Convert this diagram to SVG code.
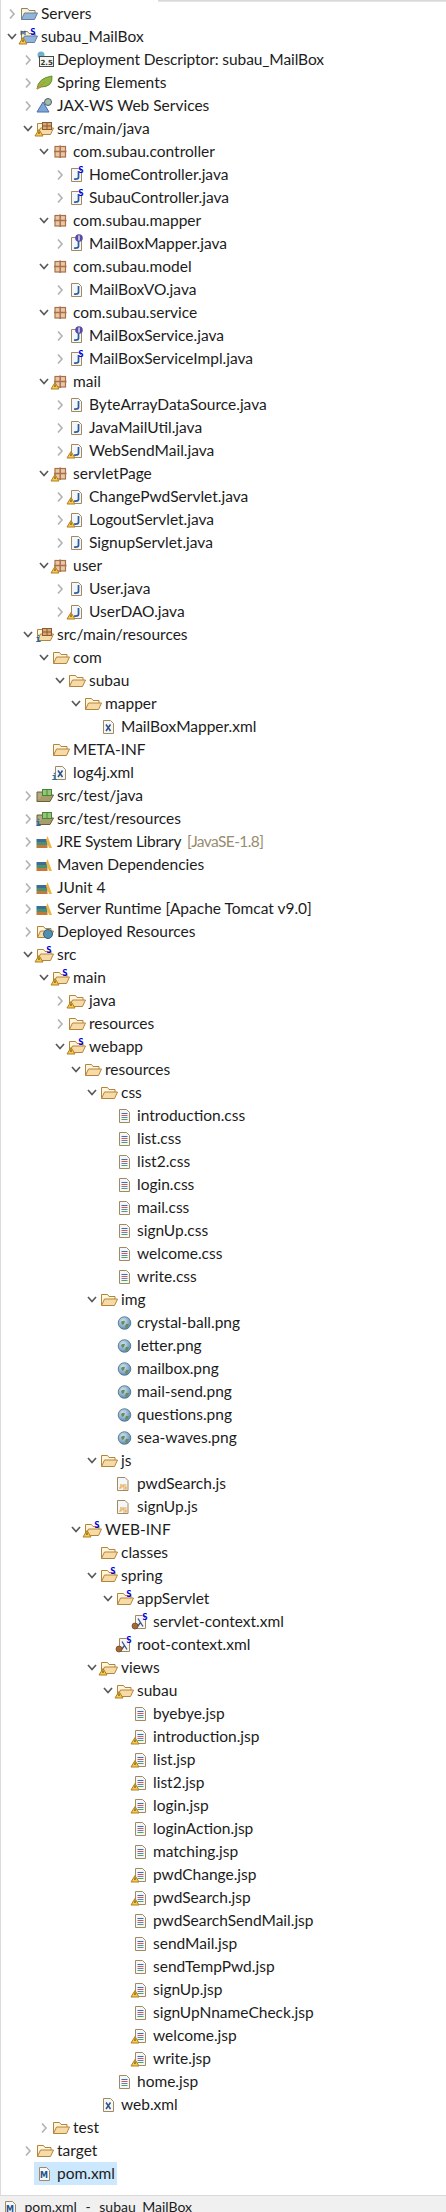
<svg xmlns="http://www.w3.org/2000/svg" width="446" height="2212" viewBox="0 0 446 2212">
<style>
text{font-family:"Lato","Noto Sans",sans-serif;font-size:15.500px;fill:#1c1c1c}
.q{fill:#978c6e}
.st{font-size:14px;word-spacing:5px}
.s{font-family:"DejaVu Sans Mono","Liberation Mono",monospace;font-size:9px;font-weight:700;fill:#0000e6}
.b{font-family:"DejaVu Sans","Liberation Sans",sans-serif;font-size:8px;font-weight:700;fill:#3b5a8c}
.cr{fill:none;stroke:#b4b4b4;stroke-width:1.700}
.cd{fill:none;stroke:#5a5a5a;stroke-width:1.700}
.fb{fill:#fff6dc;stroke:#b5843c;stroke-width:1}
.ff{fill:#f6dba6;stroke:#b5843c;stroke-width:1}
.pg{fill:#f3f6fa;stroke:#a38a5c;stroke-width:1}
.pk{fill:#e8c8a8;stroke:#a9714a;stroke-width:1.200}
</style>
<defs>
<radialGradient id="gg" cx="40%" cy="35%" r="70%"><stop offset="0" stop-color="#d8e8f4"/><stop offset="1" stop-color="#4f86ad"/></radialGradient>
<polyline id="cr" class="cr" points="-31,-4.500 -27,0 -31,4.500"/>
<polyline id="cd" class="cd" points="-33,-3 -29,1.500 -25,-3"/>
<g id="fo"><path class="fb" d="M-19.500,5.500V-5.500H-13.500L-12,-3.500H-6V-1"/><path class="ff" d="M-19.500,5.500L-16.500,-1H-3.500L-6.500,5.500Z"/></g>
<g id="pk"><rect class="pk" x="-18" y="-5.500" width="10.500" height="10.500"/><path d="M-19,-.5H-6.500M-12.800,-6.500V6" stroke="#a9714a" stroke-width="1.500" fill="none"/></g>
<g id="pg"><path class="pg" d="M-17.500,-6.500H-10.500L-7.500,-3.500V6.500H-17.500Z"/></g>
<path id="jj" d="M-10.500,-4V2.500Q-11,4.500-15,4" fill="none" stroke="#2a5b9c" stroke-width="1.700"/>
<g id="ja"><use href="#pg"/><use href="#jj"/></g>
<g id="ln"><path d="M-15.500,-2.500H-9.500" stroke="#3a6fb0"/><path d="M-15.500,-.5H-9.500" stroke="#d9534f"/><path d="M-15.500,1.500H-9.500" stroke="#6a7fb0"/><path d="M-15.500,3.500H-9.500" stroke="#4fa35a"/></g>
<g id="js"><use href="#pg"/><use href="#ln"/></g>
<g id="xm"><use href="#pg"/><path d="M-15,-2.500L-10.500,4M-10.500,-2.500L-15,4" stroke="#33507f" stroke-width="1.500"/></g>
<g id="wn"><path d="M-18,0.500L-14,7H-22Z" fill="#f6c94e" stroke="#b07f22" stroke-width="1"/><path d="M-18,2.500V5" stroke="#5a3c00" stroke-width="1"/></g>
<text id="sb" class="s" x="-10.700" y="-2.500">S</text>
<text id="ib" class="s" x="-21.500" y="7" style="fill:#1f6fb0">i</text>
<g id="ia"><circle cx="-10" cy="-6" r="3.800" fill="#5a4aa8"/><path d="M-10,-8.500V-3.500" stroke="#ffffff" stroke-width="1.200"/></g>
<g id="gl"><circle cx="-12.500" cy="0" r="6.300" fill="url(#gg)"/><path d="M-16,-1Q-14,-3-12,-2L-13,1L-15,2ZM-11,1L-8,1L-10,5L-12,4Z" fill="#6f8a5a"/><circle cx="-12.500" cy="0" r="6.300" fill="none" stroke="#4c6f8a" stroke-width=".8"/></g>
<g id="sf"><use href="#fo"/><rect x="-14.500" y="-6.500" width="9" height="7" fill="#d9a877" stroke="#8d5a32"/><path d="M-10,-6.500V.5M-14.500,-3H-5.500" stroke="#8d5a32"/></g>
<g id="tf"><path d="M-20,5.500L-16.500,-1H-3.500L-7,5.500Z" fill="#a89c6c" stroke="#6b6034"/><path d="M-20,5.500V-4H-14V-1" fill="#b5aa80" stroke="#6b6034"/><rect x="-14.500" y="-6.500" width="9" height="6" fill="#9ac27a" stroke="#3f8a35"/><path d="M-10,-6.500V-.5" stroke="#3f8a35"/></g>
<g id="lb"><rect x="-20.500" y="3" width="11" height="3" fill="#c07a3c"/><rect x="-20.500" y="0" width="11" height="3" fill="#4d8f6e"/><rect x="-20.500" y="-3" width="11" height="3" fill="#3d6c94"/><path d="M-9.500,-6L-5,6H-8L-11,-2Z" fill="#eeb544"/></g>
<g id="sc"><use href="#pg"/><path d="M-15,-3.500L-10,4.500M-12.500,.5L-15.500,4.500" stroke="#40507a" stroke-width="1.300" fill="none"/><circle cx="-18" cy="4" r="3" fill="#a5663a" stroke="#6d4020" stroke-width=".7"/></g>
<g id="pm"><use href="#pg"/><text class="b" x="-17" y="4" style="fill:#27518f">M</text></g>
<g id="fb2"><path d="M-19.500,5.500V-5.500H-13.500L-12,-3.500H-6V-1" fill="#fdf3d4" stroke="#8a8466"/><path d="M-19.500,5.500L-16.500,-1H-3.500L-6.500,5.500Z" fill="#8fb5dc" stroke="#6a7d9a"/></g>
</defs>
<rect width="446" height="2212" fill="#ffffff"/>
<rect x="158" y="0" width="288" height="1.700" fill="#d9d9d9"/>
<rect x="0" y="0" width="1" height="2195" fill="#dcdcdc"/>
<g id="connectors"/>
<rect id="selection" x="34" y="2162" width="83" height="23" fill="#cce8ff"/>
<g id="status-bar"><rect x="0" y="2195" width="446" height="17" fill="#f0f0f0"/><rect x="0" y="2195" width="446" height="1" fill="#d9d9d9"/><g transform="translate(23,2208)"><use href="#pm"/></g><text class="st" x="24.500" y="2212">pom.xml - subau_MailBox</text></g>
<g id="n00" transform="translate(41,14)"><use href="#cr"/><use href="#fb2"/><text x="0" y="5.300">Servers</text></g>
<g id="n01" transform="translate(41,37)"><use href="#cd"/><use href="#fb2"/><use href="#wn"/><use href="#sb"/><text class="b" x="-21" y="-2" style="font-size:6px">M</text><text x="0" y="5.300">subau_MailBox</text></g>
<g id="n02" transform="translate(57,60)"><use href="#cr"/><circle cx="-16" cy="-5" r="3.500" fill="#6fb0c8"/><rect x="-17.500" y="-3.500" width="14" height="10" fill="#f5f5f0" stroke="#4a4a4a"/><text class="b" x="-16.500" y="5" style="font-size:7px;fill:#333">2.5</text><text x="0" y="5.300" textLength="267">Deployment Descriptor: subau_MailBox</text></g>
<g id="n03" transform="translate(57,83)"><use href="#cr"/><path d="M-20,6Q-19,-5-5,-7Q-4,4-16,4Z" fill="#8fb844" stroke="#6c8f2c"/><path d="M-20,6L-12,-1" stroke="#c8923c" stroke-width="1.500"/><text x="0" y="5.300">Spring Elements</text></g>
<g id="n04" transform="translate(57,106)"><use href="#cr"/><path d="M-20,6L-14,-4L-8,6Z" fill="#7ea6d8" stroke="#4b6fa8"/><circle cx="-9" cy="-4" r="3.500" fill="#9cc0a0" stroke="#557"/><text x="0" y="5.300">JAX-WS Web Services</text></g>
<g id="n05" transform="translate(57,129)"><use href="#cd"/><use href="#sf"/><use href="#wn"/><text x="0" y="5.300">src/main/java</text></g>
<g id="n06" transform="translate(73,152)"><use href="#cd"/><use href="#pk"/><text x="0" y="5.300">com.subau.controller</text></g>
<g id="n07" transform="translate(89,175)"><use href="#cr"/><use href="#ja"/><use href="#sb"/><text x="0" y="5.300">HomeController.java</text></g>
<g id="n08" transform="translate(89,198)"><use href="#cr"/><use href="#ja"/><use href="#sb"/><text x="0" y="5.300">SubauController.java</text></g>
<g id="n09" transform="translate(73,221)"><use href="#cd"/><use href="#pk"/><text x="0" y="5.300">com.subau.mapper</text></g>
<g id="n10" transform="translate(89,244)"><use href="#cr"/><use href="#ja"/><use href="#ia"/><text x="0" y="5.300">MailBoxMapper.java</text></g>
<g id="n11" transform="translate(73,267)"><use href="#cd"/><use href="#pk"/><text x="0" y="5.300">com.subau.model</text></g>
<g id="n12" transform="translate(89,290)"><use href="#cr"/><use href="#ja"/><text x="0" y="5.300">MailBoxVO.java</text></g>
<g id="n13" transform="translate(73,313)"><use href="#cd"/><use href="#pk"/><text x="0" y="5.300">com.subau.service</text></g>
<g id="n14" transform="translate(89,336)"><use href="#cr"/><use href="#ja"/><use href="#ia"/><text x="0" y="5.300">MailBoxService.java</text></g>
<g id="n15" transform="translate(89,359)"><use href="#cr"/><use href="#ja"/><use href="#sb"/><text x="0" y="5.300">MailBoxServiceImpl.java</text></g>
<g id="n16" transform="translate(73,382)"><use href="#cd"/><use href="#pk"/><use href="#wn"/><text x="0" y="5.300">mail</text></g>
<g id="n17" transform="translate(89,405)"><use href="#cr"/><use href="#ja"/><text x="0" y="5.300">ByteArrayDataSource.java</text></g>
<g id="n18" transform="translate(89,428)"><use href="#cr"/><use href="#ja"/><text x="0" y="5.300">JavaMailUtil.java</text></g>
<g id="n19" transform="translate(89,451)"><use href="#cr"/><use href="#ja"/><use href="#wn"/><text x="0" y="5.300">WebSendMail.java</text></g>
<g id="n20" transform="translate(73,474)"><use href="#cd"/><use href="#pk"/><use href="#wn"/><text x="0" y="5.300">servletPage</text></g>
<g id="n21" transform="translate(89,497)"><use href="#cr"/><use href="#ja"/><use href="#wn"/><text x="0" y="5.300">ChangePwdServlet.java</text></g>
<g id="n22" transform="translate(89,520)"><use href="#cr"/><use href="#ja"/><use href="#wn"/><text x="0" y="5.300">LogoutServlet.java</text></g>
<g id="n23" transform="translate(89,543)"><use href="#cr"/><use href="#ja"/><text x="0" y="5.300">SignupServlet.java</text></g>
<g id="n24" transform="translate(73,566)"><use href="#cd"/><use href="#pk"/><use href="#wn"/><text x="0" y="5.300">user</text></g>
<g id="n25" transform="translate(89,589)"><use href="#cr"/><use href="#ja"/><text x="0" y="5.300">User.java</text></g>
<g id="n26" transform="translate(89,612)"><use href="#cr"/><use href="#ja"/><use href="#wn"/><text x="0" y="5.300">UserDAO.java</text></g>
<g id="n27" transform="translate(57,635)"><use href="#cd"/><use href="#sf"/><use href="#ib"/><text x="0" y="5.300">src/main/resources</text></g>
<g id="n28" transform="translate(73,658)"><use href="#cd"/><use href="#fo"/><text x="0" y="5.300">com</text></g>
<g id="n29" transform="translate(89,681)"><use href="#cd"/><use href="#fo"/><text x="0" y="5.300">subau</text></g>
<g id="n30" transform="translate(105,704)"><use href="#cd"/><use href="#fo"/><text x="0" y="5.300">mapper</text></g>
<g id="n31" transform="translate(121,727)"><use href="#xm"/><text x="0" y="5.300">MailBoxMapper.xml</text></g>
<g id="n32" transform="translate(73,750)"><use href="#fo"/><text x="0" y="5.300">META-INF</text></g>
<g id="n33" transform="translate(73,773)"><use href="#xm"/><use href="#ib"/><text x="0" y="5.300">log4j.xml</text></g>
<g id="n34" transform="translate(57,796)"><use href="#cr"/><use href="#tf"/><text x="0" y="5.300">src/test/java</text></g>
<g id="n35" transform="translate(57,819)"><use href="#cr"/><use href="#tf"/><use href="#ib"/><text x="0" y="5.300">src/test/resources</text></g>
<g id="n36" transform="translate(57,842)"><use href="#cr"/><use href="#lb"/><text x="0" y="5.300"><tspan textLength="124">JRE System Library</tspan> <tspan class="q" x="130" textLength="77">[JavaSE-1.8]</tspan></text></g>
<g id="n37" transform="translate(57,865)"><use href="#cr"/><use href="#lb"/><text x="0" y="5.300">Maven Dependencies</text></g>
<g id="n38" transform="translate(57,888)"><use href="#cr"/><use href="#lb"/><text x="0" y="5.300">JUnit 4</text></g>
<g id="n39" transform="translate(57,909)"><use href="#cr"/><use href="#lb"/><text x="0" y="5.300">Server Runtime [Apache Tomcat v9.0]</text></g>
<g id="n40" transform="translate(57,932)"><use href="#cr"/><use href="#fo"/><circle cx="-9" cy="2" r="4.500" fill="#4f8fb0" stroke="#2f6080"/><text x="0" y="5.300">Deployed Resources</text></g>
<g id="n41" transform="translate(57,955)"><use href="#cd"/><use href="#fo"/><use href="#wn"/><use href="#sb"/><text x="0" y="5.300">src</text></g>
<g id="n42" transform="translate(73,978)"><use href="#cd"/><use href="#fo"/><use href="#wn"/><use href="#sb"/><text x="0" y="5.300">main</text></g>
<g id="n43" transform="translate(89,1001)"><use href="#cr"/><use href="#fo"/><use href="#wn"/><text x="0" y="5.300">java</text></g>
<g id="n44" transform="translate(89,1024)"><use href="#cr"/><use href="#fo"/><text x="0" y="5.300">resources</text></g>
<g id="n45" transform="translate(89,1047)"><use href="#cd"/><use href="#fo"/><use href="#wn"/><use href="#sb"/><text x="0" y="5.300">webapp</text></g>
<g id="n46" transform="translate(105,1070)"><use href="#cd"/><use href="#fo"/><text x="0" y="5.300">resources</text></g>
<g id="n47" transform="translate(121,1093)"><use href="#cd"/><use href="#fo"/><text x="0" y="5.300">css</text></g>
<g id="n48" transform="translate(137,1116)"><use href="#js"/><text x="0" y="5.300">introduction.css</text></g>
<g id="n49" transform="translate(137,1139)"><use href="#js"/><text x="0" y="5.300">list.css</text></g>
<g id="n50" transform="translate(137,1162)"><use href="#js"/><text x="0" y="5.300">list2.css</text></g>
<g id="n51" transform="translate(137,1185)"><use href="#js"/><text x="0" y="5.300">login.css</text></g>
<g id="n52" transform="translate(137,1208)"><use href="#js"/><text x="0" y="5.300">mail.css</text></g>
<g id="n53" transform="translate(137,1231)"><use href="#js"/><text x="0" y="5.300">signUp.css</text></g>
<g id="n54" transform="translate(137,1254)"><use href="#js"/><text x="0" y="5.300">welcome.css</text></g>
<g id="n55" transform="translate(137,1277)"><use href="#js"/><text x="0" y="5.300">write.css</text></g>
<g id="n56" transform="translate(121,1300)"><use href="#cd"/><use href="#fo"/><text x="0" y="5.300">img</text></g>
<g id="n57" transform="translate(137,1323)"><use href="#gl"/><text x="0" y="5.300">crystal-ball.png</text></g>
<g id="n58" transform="translate(137,1346)"><use href="#gl"/><text x="0" y="5.300">letter.png</text></g>
<g id="n59" transform="translate(137,1369)"><use href="#gl"/><text x="0" y="5.300">mailbox.png</text></g>
<g id="n60" transform="translate(137,1392)"><use href="#gl"/><text x="0" y="5.300">mail-send.png</text></g>
<g id="n61" transform="translate(137,1415)"><use href="#gl"/><text x="0" y="5.300">questions.png</text></g>
<g id="n62" transform="translate(137,1438)"><use href="#gl"/><text x="0" y="5.300">sea-waves.png</text></g>
<g id="n63" transform="translate(121,1461)"><use href="#cd"/><use href="#fo"/><text x="0" y="5.300">js</text></g>
<g id="n64" transform="translate(137,1484)"><path class="pg" d="M-19.500,-6.500H-12L-9,-3.500V6.500H-19.500Z"/><path d="M-16,0V4L-18,4M-10.500,1H-14V3H-11V5H-14" fill="none" stroke="#e8a33d" stroke-width="1.200"/><text x="0" y="5.300">pwdSearch.js</text></g>
<g id="n65" transform="translate(137,1507)"><path class="pg" d="M-19.500,-6.500H-12L-9,-3.500V6.500H-19.500Z"/><path d="M-16,0V4L-18,4M-10.500,1H-14V3H-11V5H-14" fill="none" stroke="#e8a33d" stroke-width="1.200"/><text x="0" y="5.300">signUp.js</text></g>
<g id="n66" transform="translate(105,1530)"><use href="#cd"/><use href="#fo"/><use href="#wn"/><use href="#sb"/><text x="0" y="5.300">WEB-INF</text></g>
<g id="n67" transform="translate(121,1553)"><use href="#fo"/><text x="0" y="5.300">classes</text></g>
<g id="n68" transform="translate(121,1576)"><use href="#cd"/><use href="#fo"/><use href="#sb"/><text x="0" y="5.300">spring</text></g>
<g id="n69" transform="translate(137,1599)"><use href="#cd"/><use href="#fo"/><use href="#sb"/><text x="0" y="5.300">appServlet</text></g>
<g id="n70" transform="translate(153,1622)"><use href="#sc"/><use href="#sb"/><text x="0" y="5.300">servlet-context.xml</text></g>
<g id="n71" transform="translate(137,1645)"><use href="#sc"/><use href="#sb"/><text x="0" y="5.300">root-context.xml</text></g>
<g id="n72" transform="translate(121,1668)"><use href="#cd"/><use href="#fo"/><use href="#wn"/><text x="0" y="5.300">views</text></g>
<g id="n73" transform="translate(137,1691)"><use href="#cd"/><use href="#fo"/><use href="#wn"/><text x="0" y="5.300">subau</text></g>
<g id="n74" transform="translate(153,1714)"><use href="#js"/><text x="0" y="5.300">byebye.jsp</text></g>
<g id="n75" transform="translate(153,1737)"><use href="#js"/><use href="#wn"/><text x="0" y="5.300">introduction.jsp</text></g>
<g id="n76" transform="translate(153,1760)"><use href="#js"/><use href="#wn"/><text x="0" y="5.300">list.jsp</text></g>
<g id="n77" transform="translate(153,1783)"><use href="#js"/><use href="#wn"/><text x="0" y="5.300">list2.jsp</text></g>
<g id="n78" transform="translate(153,1806)"><use href="#js"/><use href="#wn"/><text x="0" y="5.300">login.jsp</text></g>
<g id="n79" transform="translate(153,1829)"><use href="#js"/><text x="0" y="5.300">loginAction.jsp</text></g>
<g id="n80" transform="translate(153,1852)"><use href="#js"/><text x="0" y="5.300">matching.jsp</text></g>
<g id="n81" transform="translate(153,1875)"><use href="#js"/><use href="#wn"/><text x="0" y="5.300">pwdChange.jsp</text></g>
<g id="n82" transform="translate(153,1898)"><use href="#js"/><use href="#wn"/><text x="0" y="5.300">pwdSearch.jsp</text></g>
<g id="n83" transform="translate(153,1921)"><use href="#js"/><text x="0" y="5.300">pwdSearchSendMail.jsp</text></g>
<g id="n84" transform="translate(153,1944)"><use href="#js"/><text x="0" y="5.300">sendMail.jsp</text></g>
<g id="n85" transform="translate(153,1967)"><use href="#js"/><text x="0" y="5.300">sendTempPwd.jsp</text></g>
<g id="n86" transform="translate(153,1990)"><use href="#js"/><use href="#wn"/><text x="0" y="5.300">signUp.jsp</text></g>
<g id="n87" transform="translate(153,2013)"><use href="#js"/><text x="0" y="5.300">signUpNnameCheck.jsp</text></g>
<g id="n88" transform="translate(153,2036)"><use href="#js"/><use href="#wn"/><text x="0" y="5.300">welcome.jsp</text></g>
<g id="n89" transform="translate(153,2059)"><use href="#js"/><use href="#wn"/><text x="0" y="5.300">write.jsp</text></g>
<g id="n90" transform="translate(137,2082)"><use href="#js"/><text x="0" y="5.300">home.jsp</text></g>
<g id="n91" transform="translate(121,2105)"><use href="#xm"/><text x="0" y="5.300">web.xml</text></g>
<g id="n92" transform="translate(73,2128)"><use href="#cr"/><use href="#fo"/><text x="0" y="5.300">test</text></g>
<g id="n93" transform="translate(57,2151)"><use href="#cr"/><use href="#fo"/><text x="0" y="5.300">target</text></g>
<g id="n94" transform="translate(57,2174)"><use href="#pm"/><text x="0" y="5.300">pom.xml</text></g>
</svg>
